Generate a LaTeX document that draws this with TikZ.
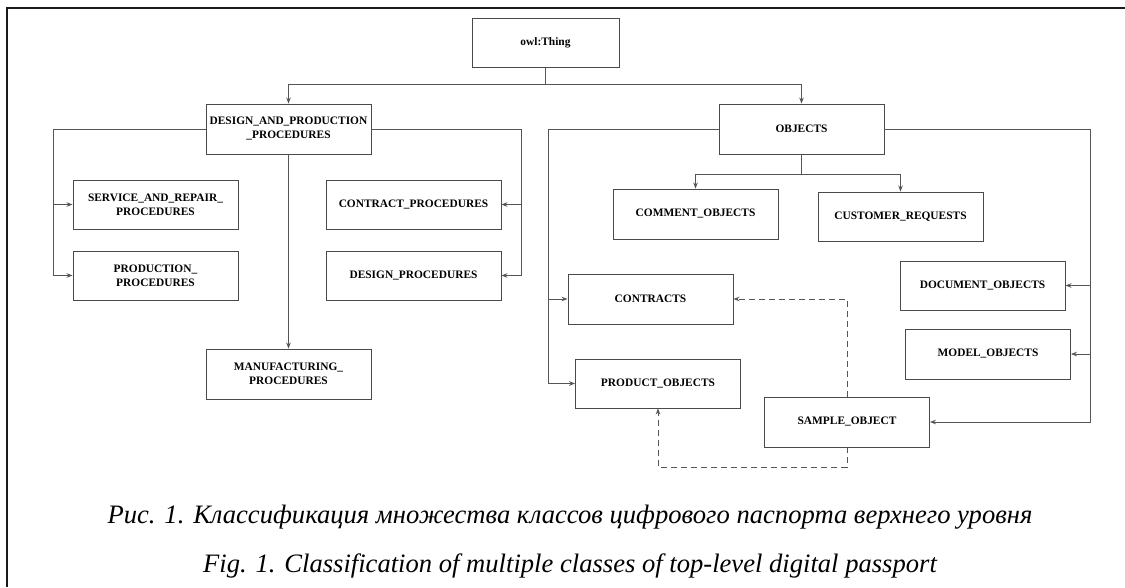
\documentclass[tikz,border=0pt]{standalone}
\usepackage{fontspec}
\setmainfont{Liberation Serif}
\usepackage{xcolor}
\usepackage{tikz}
\usetikzlibrary{arrows.meta}
\definecolor{boxDraw}{HTML}{4A4A4A}
\definecolor{lineCol}{HTML}{555555}
\definecolor{frameCol}{HTML}{1A1A1A}

\begin{document}
\begin{tikzpicture}[
  x=1pt, y=-1pt,
  cls/.style={draw=boxDraw, line width=0.9pt, align=center, inner sep=2pt,
              font=\fontsize{11.4}{14}\selectfont\bfseries, minimum width=165pt, minimum height=49pt},
  link/.style={-{Stealth[length=6pt,width=4.5pt]}, line width=0.9pt, draw=lineCol},
  dlink/.style={link, dash pattern=on 6pt off 4pt},
  capline/.style={font=\fontsize{26.6}{30}\selectfont\itshape, anchor=base},
]
\useasboundingbox (0,0) rectangle (1125,587);

% ---- Marco ----
\draw[frameCol, line width=1.6pt] (7,587) -- (7,8) -- (1125,8);

% ---- Clases ----
\node[cls, minimum width=147pt] (thing) at (545.5,42.5) {owl:Thing};
\node[cls, minimum height=50pt] (dpp)   at (288.5,129) {DESIGN\_AND\_PRODUCTION\\\_PROCEDURES};
\node[cls, minimum height=50pt] (objects) at (801.5,129) {OBJECTS};

\node[cls] (service)      at (155.5,204.5) {SERVICE\_AND\_REPAIR\_\\PROCEDURES};
\node[cls] (production)   at (155.5,275.5) {PRODUCTION\_\\PROCEDURES};
\node[cls, minimum width=175pt] (contractproc) at (413.5,204.5) {CONTRACT\_PROCEDURES};
\node[cls, minimum width=175pt] (designproc)   at (413.5,275.5) {DESIGN\_PROCEDURES};
\node[cls, minimum height=50pt] (manufact)     at (288.5,374) {MANUFACTURING\_\\PROCEDURES};

\node[cls, minimum height=50pt] (comment)  at (695.5,214)   {COMMENT\_OBJECTS};
\node[cls]                      (customer) at (900.5,216.5) {CUSTOMER\_REQUESTS};
\node[cls]                      (document) at (982.5,285.5) {DOCUMENT\_OBJECTS};
\node[cls, minimum height=50pt] (model)    at (988,354)     {MODEL\_OBJECTS};
\node[cls, minimum height=50pt] (contracts) at (650.5,299)  {CONTRACTS};
\node[cls]                      (product)  at (658,383.5)   {PRODUCT\_OBJECTS};
\node[cls, minimum height=50pt] (sample)   at (847,422)     {SAMPLE\_OBJECT};

% ---- Puntos de ramificacion ----
\coordinate (tbus) at (545.5,84);
\coordinate (dl)   at (53,129);
\coordinate (dr)   at (521,129);
\coordinate (ol)   at (548,129);
\coordinate (orr)  at (1090,129);
\coordinate (ob)   at (801.5,174);

% ---- Jerarquia ----
\draw[link] (thing.south) -- (tbus) -| (dpp.north);
\draw[link] (tbus) -| (objects.north);

\draw[link] (dpp.west) -- (dl) |- (service.west);
\draw[link] (dl) |- (production.west);
\draw[link] (dpp.east) -- (dr) |- (contractproc.east);
\draw[link] (dr) |- (designproc.east);
\draw[link] (dpp.south) -- (manufact.north);

\draw[link] (objects.south) -- (ob) -| (comment.north);
\draw[link] (ob) -| (customer.north);
\draw[link] (objects.west) -- (ol) |- (contracts.west);
\draw[link] (ol) |- (product.west);
\draw[link] (objects.east) -- (orr) |- (document.east);
\draw[link] (orr) |- (model.east);
\draw[link] (orr) |- (sample.east);

% ---- Relaciones (discontinuas) ----
\draw[dlink] (sample.north) |- (contracts.east);
\draw[dlink] (sample.south) -- ++(0,20) -| (product.south);

% ---- Pie de figura ----
\node[capline] (capru) at (570,523) {Рис. 1. Классификация множества классов цифрового паспорта верхнего уровня};
\node[capline] (capen) at (570,572) {Fig. 1. Classification of multiple classes of top-level digital passport};

\end{tikzpicture}
\end{document}
